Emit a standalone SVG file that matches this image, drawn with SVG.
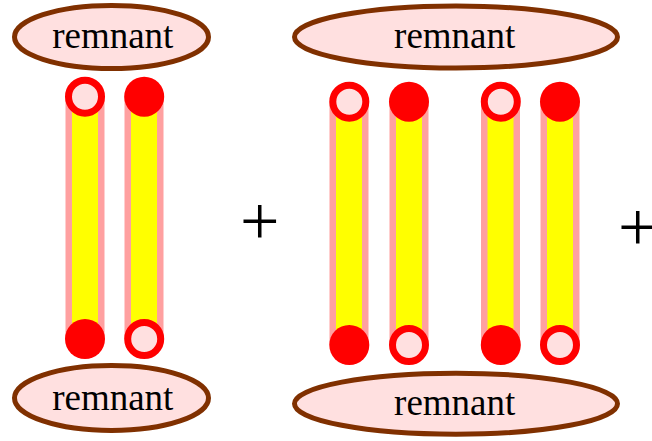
<svg xmlns="http://www.w3.org/2000/svg" width="652" height="441" viewBox="0 0 652 441">
<style>
.rem{fill:#ffe0e0;stroke:#803000;stroke-width:5}
.lbl{font-family:"Liberation Serif","Times New Roman",serif;font-size:37px;fill:#000;text-anchor:middle}
.plus{font-family:"Liberation Serif","Times New Roman",serif;font-size:70px;fill:#000;text-anchor:middle}
.tubeo{fill:#ffa0a0}
.tubei{fill:#ffff00}
.open{fill:#ffe0e0;stroke:#ff0000;stroke-width:7}
.full{fill:#ff0000}
</style>
<rect width="652" height="441" fill="#ffffff"/>
<g id="connectors">
  <rect class="tubeo" x="65.5" y="96.5" width="39" height="242.5"/>
  <rect class="tubei" x="72" y="96.5" width="26" height="242.5"/>
  <rect class="tubeo" x="124.5" y="96.5" width="39" height="242.5"/>
  <rect class="tubei" x="131" y="96.5" width="26" height="242.5"/>
  <rect class="tubeo" x="329.5" y="101.5" width="39" height="243.5"/>
  <rect class="tubei" x="336" y="101.5" width="26" height="243.5"/>
  <rect class="tubeo" x="389.5" y="101.5" width="39" height="243.5"/>
  <rect class="tubei" x="396" y="101.5" width="26" height="243.5"/>
  <rect class="tubeo" x="481" y="101.5" width="39" height="243.5"/>
  <rect class="tubei" x="487.5" y="101.5" width="26" height="243.5"/>
  <rect class="tubeo" x="540.5" y="101.5" width="39" height="243.5"/>
  <rect class="tubei" x="547" y="101.5" width="26" height="243.5"/>
</g>
<g id="remnant-tl">
  <ellipse class="rem" cx="111.5" cy="37" rx="97" ry="31.5"/>
  <text class="lbl" x="112.8" y="48.4">remnant</text>
</g>
<g id="remnant-bl">
  <ellipse class="rem" cx="111.5" cy="398" rx="97" ry="32.5"/>
  <text class="lbl" x="112.8" y="410.4">remnant</text>
</g>
<g id="remnant-tr">
  <ellipse class="rem" cx="456" cy="37" rx="161.5" ry="31"/>
  <text class="lbl" x="454.7" y="48.4">remnant</text>
</g>
<g id="remnant-br">
  <ellipse class="rem" cx="456" cy="403.7" rx="161.5" ry="30.5"/>
  <text class="lbl" x="454.7" y="415.4">remnant</text>
</g>
<g id="quarks-left">
  <circle class="open" cx="85" cy="96.7" r="16.5"/>
  <circle class="full" cx="144.2" cy="96.7" r="20"/>
  <circle class="full" cx="85" cy="339" r="20"/>
  <circle class="open" cx="144.2" cy="339" r="16.5"/>
</g>
<g id="quarks-right">
  <circle class="open" cx="349.3" cy="101.7" r="16.5"/>
  <circle class="full" cx="409" cy="101.7" r="20"/>
  <circle class="open" cx="500.8" cy="101.7" r="16.5"/>
  <circle class="full" cx="560" cy="101.7" r="20"/>
  <circle class="full" cx="349.3" cy="345" r="20"/>
  <circle class="open" cx="409" cy="345" r="16.5"/>
  <circle class="full" cx="500.8" cy="345" r="20"/>
  <circle class="open" cx="560" cy="345" r="16.5"/>
</g>
<g id="plus-signs">
  <text class="plus" x="259.7" y="245">+</text>
  <text class="plus" x="637.7" y="251">+</text>
</g>
</svg>
